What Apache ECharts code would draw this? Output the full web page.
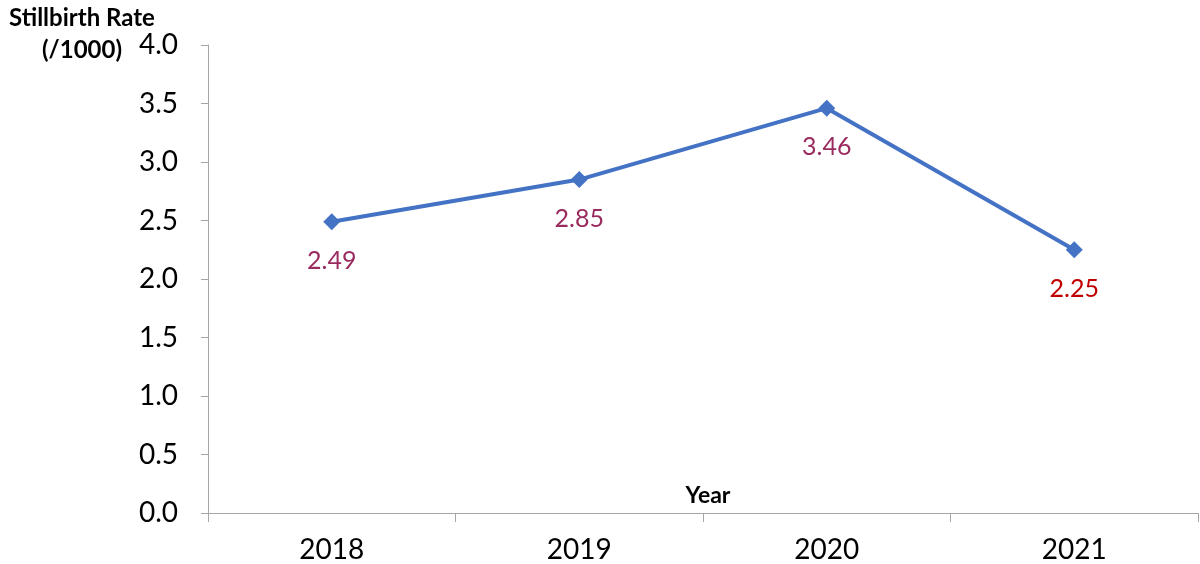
<!DOCTYPE html>
<html>
<head>
<meta charset="utf-8">
<script src="https://cdn.jsdelivr.net/npm/echarts@6/dist/echarts.min.js"></script>
<style>
  html, body { margin: 0; padding: 0; background: #fff; }
  #main { width: 1200px; height: 564px; }
</style>
</head>
<body>
<div id="main"></div>
<script>
// chart data
const years = ['2018', '2019', '2020', '2021'];
const rates = [2.49, 2.85, 3.46, 2.25];
const labelColors = ['#9A2B5F', '#9A2B5F', '#9A2B5F', '#C00000'];

const FONT = 'Lato';

let plot = echarts.init(document.querySelector('#main'));

const option = {
    animation: false,
    title: [{
        text: 'Stillbirth Rate\n(/1000)',
        left: 77,
        top: -3,
        textAlign: 'center',
        textStyle: {
            fontFamily: FONT,
            fontWeight: 'bold',
            fontSize: 24,
            lineHeight: 32,
            color: '#000'
        }
    }, {
        // x axis name sits above the axis line in the original
        text: 'Year',
        left: 703,
        top: 479,
        textAlign: 'center',
        textStyle: {
            fontFamily: FONT,
            fontWeight: 'bold',
            fontSize: 23,
            color: '#000'
        }
    }],
    grid: {
        left: 208,
        right: 2,
        top: 45,
        bottom: 51,
        outerBoundsMode: 'none'
    },
    xAxis: {
        type: 'category',
        data: years,
        boundaryGap: true,
        axisLine: { lineStyle: { color: '#A6A6A6', width: 1 } },
        axisTick: { show: true, length: 9, alignWithLabel: false, lineStyle: { color: '#A6A6A6' } },
        axisLabel: {
            fontFamily: FONT,
            fontSize: 28,
            color: '#000',
            margin: 23
        },
        splitLine: { show: false }
    },
    yAxis: {
        type: 'value',
        min: 0,
        max: 4,
        interval: 0.5,
        axisLine: { show: true, lineStyle: { color: '#A6A6A6', width: 1 } },
        axisTick: { show: true, length: 7, lineStyle: { color: '#A6A6A6' } },
        axisLabel: {
            fontFamily: FONT,
            fontSize: 28,
            color: '#000',
            margin: 30,
            formatter: v => v.toFixed(1)
        },
        splitLine: { show: false }
    },
    series: [{
        type: 'line',
        data: rates.map((v, i) => ({
            value: v,
            label: { color: labelColors[i] }
        })),
        symbol: 'diamond',
        symbolSize: 17,
        lineStyle: { color: '#4472C4', width: 4 },
        itemStyle: { color: '#4472C4' },
        label: {
            show: true,
            position: 'bottom',
            distance: 18,
            fontFamily: FONT,
            fontSize: 25,
            formatter: p => p.value.toFixed(2)
        }
    }]
};

plot.setOption(option);
</script>
</body>
</html>
